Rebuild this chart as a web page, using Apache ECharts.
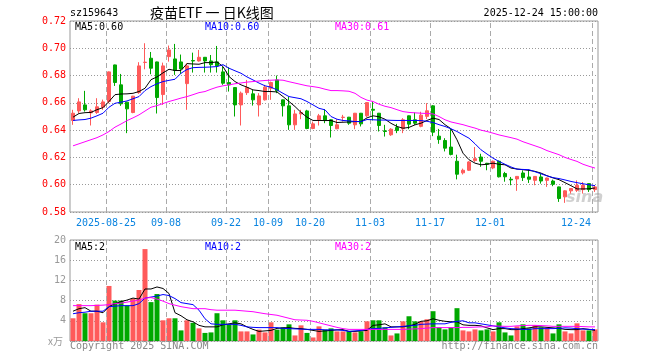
<!DOCTYPE html>
<html><head><meta charset="utf-8">
<script src="https://cdn.jsdelivr.net/npm/echarts@6/dist/echarts.min.js"></script>
<style>html,body{margin:0;padding:0;background:#fff}#c{width:660px;height:360px}</style>
</head><body><div id="c"></div>
<script>
const dates = [
'2025-08-15','2025-08-18','2025-08-19','2025-08-20','2025-08-21','2025-08-22','2025-08-25','2025-08-26','2025-08-27','2025-08-28','2025-08-29',
'2025-09-01','2025-09-02','2025-09-03','2025-09-04','2025-09-05','2025-09-08','2025-09-09','2025-09-10','2025-09-11','2025-09-12',
'2025-09-15','2025-09-16','2025-09-17','2025-09-18','2025-09-19','2025-09-22','2025-09-23','2025-09-24','2025-09-25','2025-09-26',
'2025-09-29','2025-09-30','2025-10-09','2025-10-10','2025-10-13','2025-10-14','2025-10-15','2025-10-16','2025-10-17','2025-10-20',
'2025-10-21','2025-10-22','2025-10-23','2025-10-24','2025-10-27','2025-10-28','2025-10-29','2025-10-30','2025-10-31','2025-11-03',
'2025-11-04','2025-11-05','2025-11-06','2025-11-07','2025-11-10','2025-11-11','2025-11-12','2025-11-13','2025-11-14','2025-11-17',
'2025-11-18','2025-11-19','2025-11-20','2025-11-21','2025-11-24','2025-11-25','2025-11-26','2025-11-27','2025-11-28','2025-12-01',
'2025-12-02','2025-12-03','2025-12-04','2025-12-05','2025-12-08','2025-12-09','2025-12-10','2025-12-11','2025-12-12','2025-12-15',
'2025-12-16','2025-12-17','2025-12-18','2025-12-19','2025-12-22','2025-12-23','2025-12-24'];

const openP = [.6471,.6541,.6585,.6527,.6529,.6568,.6610,.6878,.6732,.6605,.6529,.6675,.6896,.6927,.6900,.6661,.6939,.6922,.6900,.6741,
.6910,.6907,.6934,.6907,.6900,.6827,.6749,.6712,.6585,.6675,.6666,.6585,.6622,.6707,.6768,.6622,.6578,.6439,.6519,.6541,
.6412,.6476,.6505,.6476,.6410,.6493,.6495,.6439,.6524,.6505,.6553,.6524,.6395,.6366,.6419,.6410,.6505,.6476,.6428,.6501,
.6578,.6356,.6324,.6276,.6172,.6087,.6106,.6177,.6203,.6157,.6123,.6172,.6082,.6040,.6042,.6086,.6057,.6032,.6057,.6032,
.6027,.5984,.5911,.5955,.5959,.5964,.6008,.5964];
const closeP = [.6524,.6607,.6549,.6541,.6571,.6607,.6827,.6749,.6593,.6556,.6649,.6871,.6898,.6854,.6639,.6871,.6988,.6837,.6849,.6871,
.6907,.6934,.6907,.6880,.6871,.6744,.6732,.6585,.6671,.6712,.6622,.6651,.6715,.6749,.6688,.6578,.6439,.6519,.6529,.6412,
.6446,.6505,.6471,.6434,.6439,.6495,.6451,.6524,.6446,.6602,.6546,.6434,.6390,.6407,.6397,.6476,.6444,.6451,.6510,.6542,
.6385,.6331,.6268,.6222,.6077,.6106,.6167,.6191,.6172,.6150,.6172,.6058,.6058,.6035,.6061,.6052,.6040,.6061,.6027,.6049,
.6003,.5899,.5955,.5972,.5996,.5996,.5964,.5984];
const lowP = [.6439,.6524,.6536,.6434,.6519,.6549,.6597,.6724,.6578,.6378,.6524,.6666,.6846,.6810,.6522,.6585,.6902,.6805,.6812,.6549,
.6822,.6902,.6822,.6822,.6822,.6732,.6683,.6500,.6434,.6658,.6580,.6500,.6617,.6622,.6671,.6500,.6402,.6402,.6480,.6407,
.6407,.6434,.6451,.6346,.6407,.6463,.6439,.6407,.6427,.6495,.6471,.6390,.6353,.6358,.6378,.6378,.6407,.6439,.6421,.6481,
.6356,.6300,.6244,.6215,.6039,.6075,.6101,.6167,.6131,.6106,.6114,.6053,.6022,.5996,.5955,.6027,.6013,.5996,.6008,.5984,
.5989,.5874,.5867,.5935,.5947,.5935,.5947,.5947];
const highP = [.6549,.6634,.6688,.6553,.6634,.6624,.6830,.6880,.6812,.6607,.6651,.6898,.7037,.6973,.6902,.6895,.7020,.7032,.6954,.6890,
.6968,.6988,.6936,.6951,.7017,.6866,.6861,.6714,.6683,.6768,.6695,.6671,.6732,.6756,.6800,.6624,.6646,.6549,.6549,.6549,
.6463,.6519,.6553,.6480,.6480,.6512,.6497,.6526,.6526,.6604,.6610,.6526,.6439,.6414,.6446,.6488,.6507,.6529,.6535,.6598,
.6583,.6409,.6341,.6409,.6220,.6118,.6172,.6276,.6227,.6160,.6177,.6177,.6094,.6057,.6063,.6105,.6110,.6063,.6086,.6052,
.6037,.5986,.5959,.5974,.6032,.6020,.6010,.5996];

const volume = [4.5,7.3,5.5,5.5,7.2,3.7,10.9,8.0,8.0,7.0,8.4,10.1,18.2,7.7,9.3,4.1,4.5,4.5,2.1,4.1,
3.6,2.5,1.6,1.7,5.5,4.1,3.3,4.1,1.9,1.9,1.3,2.25,1.7,3.7,2.25,2.7,3.3,1.1,3.1,1.6,
0.7,2.9,2.25,2.5,1.9,1.9,1.9,1.7,1.9,3.9,4.1,4.1,2.7,1.1,1.5,3.9,4.9,3.9,3.9,4.3,
5.9,2.7,2.3,2.7,6.5,2.1,1.9,2.3,2.1,2.3,1.9,3.7,1.7,1.1,2.9,3.3,2.5,3.1,2.7,2.5,
1.5,3.3,1.9,1.5,3.5,2.1,2.1,2.3];

const ma5 = [.6495,.6522,.6528,.6530,.6550,.6565,.6610,.6660,.6665,.6666,.6670,.6683,.6707,.6770,.6790,.6820,.6846,.6837,.6837,.6888,
.6885,.6883,.6895,.6895,.6900,.6866,.6793,.6756,.6732,.6715,.6695,.6690,.6683,.6683,.6680,.6646,.6610,.6573,.6530,.6495,
.6471,.6471,.6470,.6471,.6456,.6458,.6460,.6463,.6463,.6490,.6505,.6498,.6480,.6450,.6427,.6414,.6420,.6439,.6451,.6471,
.6488,.6478,.6440,.6410,.6329,.6231,.6183,.6158,.6146,.6150,.6158,.6150,.6146,.6122,.6115,.6110,.6105,.6098,.6085,.6066,
.6050,.6037,.6015,.5993,.5969,.5969,.5970,.5976];
const ma10 = [.6471,.6475,.6478,.6488,.6505,.6524,.6568,.6597,.6605,.6614,.6630,.6646,.6690,.6719,.6740,.6756,.6765,.6773,.6817,.6845,
.6858,.6860,.6861,.6863,.6866,.6880,.6854,.6835,.6817,.6790,.6768,.6745,.6725,.6715,.6695,.6670,.6646,.6638,.6630,.6610,
.6585,.6560,.6549,.6500,.6480,.6471,.6468,.6463,.6463,.6478,.6476,.6474,.6474,.6472,.6471,.6471,.6471,.6471,.6470,.6465,
.6456,.6440,.6427,.6410,.6390,.6365,.6341,.6300,.6256,.6225,.6195,.6170,.6150,.6130,.6114,.6112,.6110,.6095,.6080,.6065,
.6052,.6045,.6035,.6024,.6015,.6007,.6000,.5993];
const ma30 = [.6285,.6300,.6315,.6330,.6345,.6365,.6390,.6422,.6445,.6470,.6490,.6512,.6540,.6568,.6580,.6595,.6610,.6622,.6635,.6646,
.6660,.6675,.6683,.6700,.6715,.6725,.6732,.6740,.6746,.6752,.6756,.6760,.6764,.6766,.6768,.6766,.6755,.6745,.6735,.6725,
.6719,.6712,.6700,.6690,.6690,.6688,.6685,.6670,.6640,.6620,.6610,.6590,.6575,.6565,.6550,.6536,.6530,.6527,.6524,.6522,
.6519,.6500,.6476,.6460,.6450,.6440,.6427,.6415,.6400,.6390,.6378,.6365,.6355,.6345,.6334,.6315,.6300,.6285,.6270,.6250,
.6235,.6220,.6200,.6185,.6171,.6150,.6135,.6122];

const volMa5 = [5.9,6.4,6.6,5.9,5.9,5.6,6.8,7.4,7.8,8.1,8.5,8.3,10.3,10.3,10.7,10.4,9.4,5.6,5.0,4.2,
3.8,3.1,2.8,2.8,2.8,3.2,3.4,3.6,3.4,2.8,2.3,1.9,2.0,2.1,2.5,2.6,2.65,2.5,2.45,2.3,
2.1,1.9,2.0,2.1,2.2,2.25,1.9,1.9,2.0,2.1,3.1,3.2,3.4,2.8,2.8,2.8,3.0,3.3,3.9,4.0,
4.4,4.1,3.9,3.8,3.8,3.2,3.1,3.1,3.0,2.6,2.25,2.45,2.45,2.25,2.25,2.45,2.6,2.8,2.8,2.7,
2.6,2.5,2.3,2.25,2.25,2.45,2.3,2.1];
const volMa10 = [5.4,5.6,5.7,5.9,5.9,5.9,6.8,6.9,7.0,7.0,7.0,7.4,8.5,8.7,8.9,9.2,9.0,8.4,7.6,7.4,
7.2,6.1,4.4,3.4,3.3,3.3,3.3,3.3,3.1,2.8,2.7,2.65,2.65,2.65,2.65,2.5,2.45,2.4,2.35,2.3,
2.3,2.3,2.2,2.2,2.2,2.1,1.9,2.0,2.1,2.3,2.45,2.5,2.6,2.7,2.8,2.9,3.0,3.1,3.3,3.35,
3.4,3.4,3.4,3.7,3.9,4.0,3.6,3.6,3.4,3.2,3.0,2.8,2.6,2.45,2.4,2.3,2.3,2.45,2.45,2.45,
2.45,2.5,2.6,2.55,2.45,2.35,2.3,2.25];
const volMa30 = [7.0,7.0,7.0,7.0,7.05,7.1,7.2,7.4,7.5,7.7,7.9,8.1,8.5,8.6,8.3,7.9,7.4,7.1,6.8,6.6,
6.4,6.4,6.4,6.2,6.1,6.1,6.1,6.1,6.0,5.9,5.8,5.6,5.4,5.25,5.1,4.8,4.5,4.2,4.15,4.1,
3.9,3.6,3.3,3.0,2.7,2.45,2.3,2.3,2.3,2.3,2.3,2.3,2.3,2.3,2.3,2.3,2.35,2.4,2.45,2.55,
2.65,2.65,2.65,2.65,2.65,2.7,2.7,2.75,2.8,2.8,3.0,2.95,2.9,2.9,3.0,3.05,3.1,3.1,3.05,3.0,
2.9,2.9,2.9,2.9,2.9,2.85,2.8,2.8];

const tickDates = ['2025-08-25','2025-09-08','2025-09-22','2025-10-09','2025-10-20','2025-11-03','2025-11-17','2025-12-01','2025-12-24'];
const tickLabels = ['2025-08-25','09-08','09-22','10-09','10-20','11-03','11-17','12-01','12-24'];
const priceLegend = ['MA5:0.60','MA10:0.60','MA30:0.61'];
const volLegend = ['MA5:2','MA10:2','MA30:2'];

const RED = '#ff5a5a', GREEN = '#00a800';
const MONO = 'DejaVu Sans Mono';
const boundary = dates.concat(['']);
const isTick = (i, v) => tickDates.indexOf(v) >= 0;

const chart = echarts.init(document.getElementById('c'), null, {renderer: 'canvas'});
const lineS = (name, data, color, xi, yi) => ({
  name, type: 'line', data, xAxisIndex: xi, yAxisIndex: yi, symbol: 'none', silent: true,
  lineStyle: {color, width: 1}, z: 5
});
const txt = (x, y, text, color, font, align) => ({
  type: 'text', x, y, silent: true,
  style: {text, fill: color, font: font || ('10px ' + MONO), align: align || 'left', verticalAlign: 'middle'}
});
const vGuides = (xi, yi) => ({
  type: 'line', xAxisIndex: xi, yAxisIndex: yi, data: [], silent: true, z: 1,
  markLine: {symbol: ['none', 'none'], silent: true, animation: false, label: {show: false},
    lineStyle: {color: '#aaa', width: 1, type: [5, 3]},
    data: tickDates.map(d => ({xAxis: d}))}
});

chart.setOption({
  animation: false,
  backgroundColor: '#fff',
  grid: [
    {left: 70, top: 21, width: 528, height: 191, show: true, borderColor: '#999', borderWidth: 1, backgroundColor: 'transparent'},
    {left: 70, top: 240, width: 528, height: 101, show: true, borderColor: '#999', borderWidth: 1, backgroundColor: 'transparent'}
  ],
  xAxis: [
    {type: 'category', gridIndex: 0, data: dates, boundaryGap: true, show: false},
    {type: 'category', gridIndex: 0, data: boundary, boundaryGap: false, position: 'bottom',
      axisLine: {show: false}, axisTick: {show: false},
      axisLabel: {interval: isTick, color: '#0a84e0', fontSize: 10, fontFamily: MONO, margin: 6,
        formatter: v => {
          const k = tickDates.indexOf(v);
          if (k < 0) return '';
          if (k === tickDates.length - 1) return '{r|' + tickLabels[k] + '}';
          return tickLabels[k];
        },
        rich: {r: {color: '#0a84e0', fontSize: 10, fontFamily: MONO, padding: [0, 32, 0, 0]}}
      },
      splitLine: {show: false}
    },
    {type: 'category', gridIndex: 1, data: dates, boundaryGap: true, show: false},
    {type: 'category', gridIndex: 1, data: boundary, boundaryGap: false, position: 'bottom',
      axisLine: {show: false}, axisTick: {show: false}, axisLabel: {show: false}, splitLine: {show: false}
    }
  ],
  yAxis: [
    {type: 'value', gridIndex: 0, min: 0.58, max: 0.72, interval: 0.02,
      axisLine: {show: false}, axisTick: {show: false},
      axisLabel: {color: '#ff0000', fontSize: 10, fontFamily: MONO, margin: 4, formatter: v => v.toFixed(2)},
      splitLine: {show: true, lineStyle: {color: '#999', width: 1, type: [1, 2]}}
    },
    {type: 'value', gridIndex: 1, min: 0, max: 20, interval: 4,
      axisLine: {show: false}, axisTick: {show: false},
      axisLabel: {color: '#999', fontSize: 10, fontFamily: MONO, margin: 4, formatter: v => v === 0 ? '' : String(v)},
      splitLine: {show: true, lineStyle: {color: '#999', width: 1, type: [1, 2]}}
    }
  ],
  series: [
    vGuides(1, 0),
    vGuides(3, 1),
    {type: 'candlestick', xAxisIndex: 0, yAxisIndex: 0, barWidth: 4,
      data: dates.map((d, i) => [openP[i], closeP[i], lowP[i], highP[i]]),
      itemStyle: {color: RED, color0: GREEN, borderColor: RED, borderColor0: GREEN, borderWidth: 1}, z: 3},
    lineS('MA5', ma5, '#000000', 0, 0),
    lineS('MA10', ma10, '#0000ff', 0, 0),
    lineS('MA30', ma30, '#ff00ff', 0, 0),
    {type: 'bar', xAxisIndex: 2, yAxisIndex: 1, barWidth: 5,
      data: volume.map((v, i) => ({value: v, itemStyle: {color: closeP[i] >= openP[i] ? RED : GREEN}})), z: 3},
    lineS('VMA5', volMa5, '#000000', 2, 1),
    lineS('VMA10', volMa10, '#0000ff', 2, 1),
    lineS('VMA30', volMa30, '#ff00ff', 2, 1)
  ],
  graphic: [
    txt(70, 13, 'sz159643', '#000'),
    txt(150, 13, '疫苗ETF 一 日K线图', '#000', '14px "Noto Sans CJK SC"'),
    txt(598, 13, '2025-12-24 15:00:00', '#000', null, 'right'),
    txt(75, 27, priceLegend[0], '#000'),
    txt(205, 27, priceLegend[1], '#0000ff'),
    txt(335, 27, priceLegend[2], '#ff00ff'),
    txt(75, 247, volLegend[0], '#000'),
    txt(205, 247, volLegend[1], '#0000ff'),
    txt(335, 247, volLegend[2], '#ff00ff'),
    txt(48, 341, 'x万', '#999', '10px "Noto Sans CJK SC"'),
    txt(70, 346, 'Copyright 2025 SINA.COM', '#888'),
    txt(598, 346, 'http://finance.sina.com.cn', '#888', null, 'right'),
    {type: 'text', x: 566, y: 198, silent: true, z: 1,
      style: {text: 'sina', fill: 'rgba(150,150,150,0.45)', font: 'italic bold 16px "DejaVu Sans"', verticalAlign: 'middle'}}
  ]
});
</script>
</body></html>
